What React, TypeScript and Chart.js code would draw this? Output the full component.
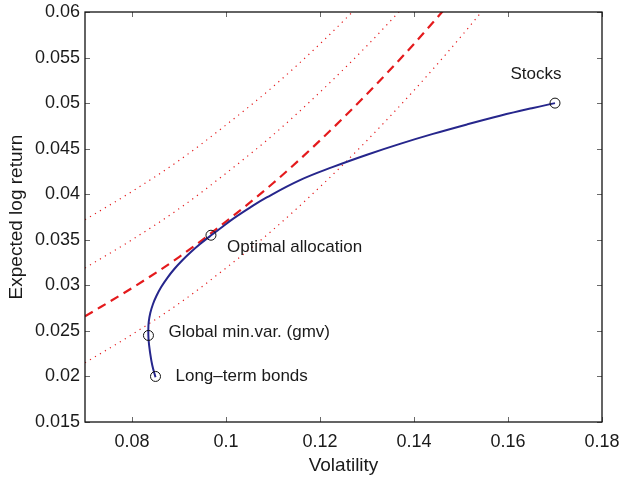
import React, { useEffect, useRef } from "react";
import { Chart, registerables } from "chart.js";

Chart.register(...registerables);

// ---- data ----
const xTickValues = [0.08, 0.1, 0.12, 0.14, 0.16, 0.18];
const yTickValues = [0.015, 0.02, 0.025, 0.03, 0.035, 0.04, 0.045, 0.05, 0.055, 0.06];

// efficient frontier (volatility, expected log return)
const frontierVol = [0.085, 0.0843, 0.08383, 0.08353, 0.08347, 0.08356, 0.08389, 0.08447, 0.08519, 0.08621, 0.08749, 0.089, 0.09077, 0.09253, 0.09449, 0.09683, 0.09919, 0.10155, 0.1051, 0.10866, 0.11574, 0.12277, 0.13, 0.13702, 0.14404, 0.15128, 0.1583, 0.16532, 0.17];
const frontierRet = [0.0199, 0.02126, 0.02268, 0.024, 0.0251, 0.02598, 0.02696, 0.02795, 0.02883, 0.02982, 0.0308, 0.03179, 0.03278, 0.03366, 0.03454, 0.03549, 0.0364, 0.03732, 0.03853, 0.03965, 0.04155, 0.043, 0.04434, 0.04553, 0.04662, 0.04766, 0.04861, 0.04947, 0.05];

// indifference curves
const indiffVol = [0.07, 0.08, 0.09, 0.1, 0.11, 0.12, 0.13, 0.14, 0.15, 0.16];
const indiffHigh = [0.0372, 0.0403, 0.0437, 0.0476, 0.0518, 0.0565, 0.0616];
const indiffMid = [0.0319, 0.035, 0.0384, 0.0423, 0.0465, 0.0512, 0.0563, 0.0618];
const indiffOptimal = [0.0266, 0.0297, 0.0331, 0.037, 0.0412, 0.0459, 0.051, 0.0565, 0.0624];
const indiffLow = [0.0215, 0.0246, 0.028, 0.0319, 0.0361, 0.0408, 0.0459, 0.0514, 0.0573, 0.0636];

// marked portfolios
const markerLabels = ["Stocks", "Optimal allocation", "Global min.var. (gmv)", "Long\u2013term bonds"];
const markerVol = [0.17, 0.0968, 0.0835, 0.085];
const markerRet = [0.05, 0.0355, 0.0245, 0.02];

// label placement (pixel offsets from marker)
const labelOffsets = [
  { dx: -19, dy: -29, align: "center" },
  { dx: 16, dy: 12, align: "left" },
  { dx: 20, dy: -3, align: "left" },
  { dx: 20, dy: 0, align: "left" },
];

const FONT = "'Liberation Sans', Arial, Helvetica, sans-serif";
const RED = "rgb(228, 26, 28)";
const BLUE = "rgb(38, 38, 140)";

const zip = (xs: number[], ys: number[]) => ys.map((y, i) => ({ x: xs[i], y }));
const fmt = (v: number) => parseFloat(v.toFixed(4)).toString();

const boxPlugin = {
  id: "matlabBox",
  afterDraw(chart: any) {
    const { ctx, chartArea: a, scales } = chart;
    const xs = scales.x;
    const ys = scales.y;
    ctx.save();
    ctx.strokeStyle = "#6a6a6a";
    ctx.lineWidth = 1;
    const tl = 5;
    ctx.beginPath();
    xTickValues.forEach((v) => {
      const px = Math.round(xs.getPixelForValue(v)) + 0.5;
      ctx.moveTo(px, a.bottom);
      ctx.lineTo(px, a.bottom - tl);
      ctx.moveTo(px, a.top);
      ctx.lineTo(px, a.top + tl);
    });
    yTickValues.forEach((v) => {
      const py = Math.round(ys.getPixelForValue(v)) + 0.5;
      ctx.moveTo(a.left, py);
      ctx.lineTo(a.left + tl, py);
      ctx.moveTo(a.right, py);
      ctx.lineTo(a.right - tl, py);
    });
    ctx.stroke();
    ctx.strokeStyle = "#111";
    ctx.lineWidth = 1.3;
    ctx.strokeRect(a.left, a.top, a.right - a.left, a.bottom - a.top);

    // annotations
    ctx.fillStyle = "#1a1a1a";
    ctx.font = `17px ${FONT}`;
    ctx.textBaseline = "middle";
    markerLabels.forEach((label, i) => {
      const px = xs.getPixelForValue(markerVol[i]);
      const py = ys.getPixelForValue(markerRet[i]);
      const o = labelOffsets[i];
      ctx.textAlign = o.align as CanvasTextAlign;
      ctx.fillText(label, px + o.dx, py + o.dy);
    });
    ctx.restore();
  },
};

export default function App() {
  const ref = useRef<HTMLCanvasElement>(null);
  useEffect(() => {
    if (!ref.current) return;
    const redCurve = (data: number[], dashed: boolean) => ({
      data: zip(indiffVol, data),
      showLine: true,
      borderColor: RED,
      borderWidth: dashed ? 2.2 : 1.2,
      borderDash: dashed ? [9, 6] : [1.2, 4.6],
      pointRadius: 0,
      cubicInterpolationMode: "monotone",
      fill: false,
      order: 3,
    });
    const chart = new Chart(ref.current, {
      type: "scatter",
      data: {
        datasets: [
          {
            data: zip(markerVol, markerRet),
            showLine: false,
            pointRadius: 5,
            pointStyle: "circle",
            pointBorderColor: "#111",
            pointBackgroundColor: "rgba(0,0,0,0)",
            pointBorderWidth: 1,
            order: 0,
          } as any,
          {
            data: zip(frontierVol, frontierRet),
            showLine: true,
            borderColor: BLUE,
            borderWidth: 2,
            pointRadius: 0,
            tension: 0.4,
            fill: false,
            order: 1,
          } as any,
          redCurve(indiffOptimal, true) as any,
          redCurve(indiffHigh, false) as any,
          redCurve(indiffMid, false) as any,
          redCurve(indiffLow, false) as any,
        ],
      },
      options: {
        animation: false,
        responsive: true,
        maintainAspectRatio: false,
        layout: { padding: { left: 0, top: 12, right: 21, bottom: 0 } },
        plugins: { legend: { display: false }, tooltip: { enabled: false } },
        scales: {
          x: {
            type: "linear",
            min: 0.07,
            max: 0.18,
            afterBuildTicks: (s: any) => {
              s.ticks = xTickValues.map((v) => ({ value: v }));
            },
            afterFit: (s: any) => {
              s.height = 61;
              s.paddingLeft = 0;
              s.paddingRight = 0;
            },
            grid: { display: false, drawTicks: false },
            border: { display: false },
            ticks: {
              color: "#1a1a1a",
              font: { family: FONT, size: 18 },
              padding: 9,
              maxRotation: 0,
              autoSkip: false,
              callback: (v: any) => fmt(Number(v)),
            },
            title: {
              display: true,
              text: "Volatility",
              color: "#1a1a1a",
              font: { family: FONT, size: 19 },
              padding: { top: 0, bottom: 6 },
            },
          },
          y: {
            type: "linear",
            min: 0.015,
            max: 0.06,
            afterBuildTicks: (s: any) => {
              s.ticks = yTickValues.map((v) => ({ value: v }));
            },
            afterFit: (s: any) => {
              s.width = 85;
              s.paddingTop = 0;
              s.paddingBottom = 0;
            },
            grid: { display: false, drawTicks: false },
            border: { display: false },
            ticks: {
              color: "#1a1a1a",
              font: { family: FONT, size: 18 },
              padding: 5,
              autoSkip: false,
              callback: (v: any) => fmt(Number(v)),
            },
            title: {
              display: true,
              text: "Expected log return",
              color: "#1a1a1a",
              font: { family: FONT, size: 19 },
              padding: { top: 5, bottom: 0 },
            },
          },
        },
      },
      plugins: [boxPlugin],
    } as any);
    return () => chart.destroy();
  }, []);
  return (
    <div style={{ position: "fixed", left: 0, top: 0, width: 623, height: 483, background: "#fff" }}>
      <canvas ref={ref} />
    </div>
  );
}
